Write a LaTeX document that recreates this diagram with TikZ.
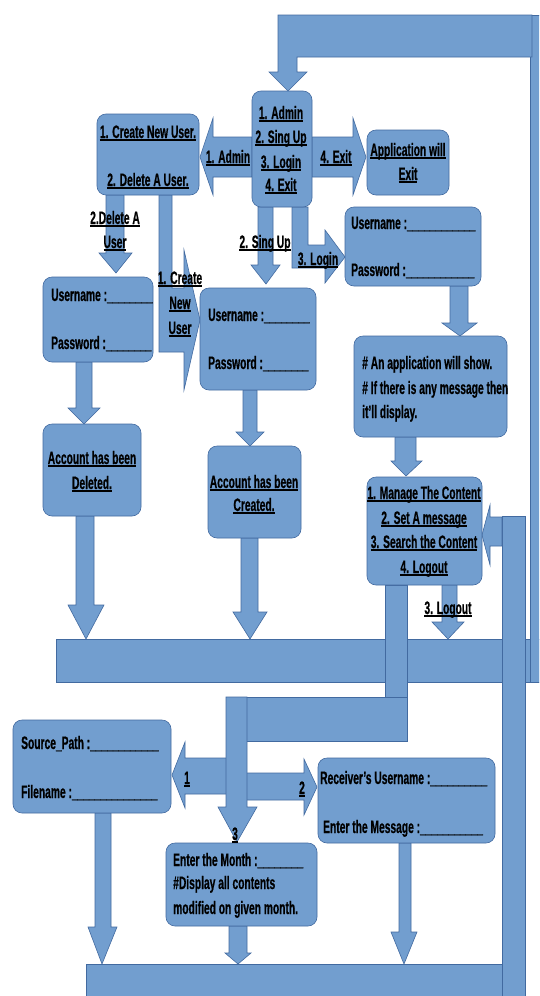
\documentclass[tikz,border=0pt]{standalone}
\usepackage{fontspec}
\setmainfont{Liberation Sans}[FakeStretch=0.57,BoldFeatures={FakeBold=0.6}]
\usetikzlibrary{fit}
\definecolor{bfill}{RGB}{114,158,207}
\definecolor{bline}{RGB}{66,106,160}
\newsavebox{\myulbox}
\newcommand{\myul}[1]{\sbox{\myulbox}{#1}\rlap{\rule[-2.8pt]{\wd\myulbox}{1.5pt}}\usebox{\myulbox}}
\newcommand{\blk}[1]{\foreach \i in {1,...,#1}{\_}}
\begin{document}
\begin{tikzpicture}[x=1pt,y=-1pt,
  shp/.style={fill=bfill,draw=bline,line width=0.6pt,line join=miter},
  box/.style={shp,rounded corners=9pt,inner sep=0pt,outer sep=0pt},
  txt/.style={font=\bfseries\fontsize{18}{21}\selectfont,inner sep=0pt,text=black,anchor=base},
  ltxt/.style={txt,anchor=base west}]
\clip (0,0) rectangle (539,996);
\fill[white] (0,0) rectangle (539,996);
% outer loop
\path[shp] (56,639) rectangle (560,682);
\path[shp] (530,15) rectangle (560,682);
\path[shp] (278,15) -- (532,15) -- (532,57) -- (297,57) -- (297,72) -- (307,72) -- (288,91) -- (269,72) -- (278,72) -- cycle;
% inner loop
\path[shp] (86,964) rectangle (510,1010);
\path[shp] (502,516) rectangle (525,1010);
\path[shp] (502,517) -- (490,517) -- (490,505) -- (482,535) -- (490,565) -- (490,546) -- (502,546) -- cycle;
% manage path
\path[shp] (385,585) rectangle (407,741);
\path[shp] (226,697) rectangle (407,741);
\path[shp] (230,758) -- (185,758) -- (185,742) -- (172,775) -- (185,808) -- (185,794) -- (230,794) -- cycle;
\path[shp] (243,773) -- (304,773) -- (304,759) -- (317,787) -- (304,815) -- (304,800) -- (243,800) -- cycle;
\path[shp] (226,697) -- (247,697) -- (247,807) -- (257,807) -- (237,842) -- (218,807) -- (226,807) -- cycle;
% menu arrows
\path[shp] (252,137) -- (213,137) -- (213,118) -- (200,157) -- (213,195) -- (213,177) -- (252,177) -- cycle;
\path[shp] (312,137) -- (353,137) -- (353,118) -- (366,157) -- (353,195) -- (353,177) -- (312,177) -- cycle;
\path[shp] (106,195) -- (124,195) -- (124,253) -- (132,253) -- (116,273) -- (99,253) -- (106,253) -- cycle;
\path[shp] (159,195) -- (172,195) -- (172,288) -- (184,288) -- (184,250) -- (200,320) -- (184,390) -- (184,352) -- (159,352) -- cycle;
\path[shp] (258,207) -- (273,207) -- (273,265) -- (280,265) -- (266,284) -- (251,265) -- (258,265) -- cycle;
\path[shp] (292,207) -- (308,207) -- (308,245) -- (325,245) -- (325,230) -- (345,257) -- (325,283) -- (325,268) -- (292,268) -- cycle;
\path[shp] (450,286) -- (468,286) -- (468,323) -- (477,323) -- (460,336) -- (442,323) -- (450,323) -- cycle;
\path[shp] (395,437) -- (416,437) -- (416,461) -- (422,461) -- (406,476) -- (391,461) -- (395,461) -- cycle;
\path[shp] (76,362) -- (92,362) -- (92,408) -- (100,408) -- (84,424) -- (68,408) -- (76,408) -- cycle;
\path[shp] (76,516) -- (94,516) -- (94,605) -- (104,605) -- (86,639) -- (68,605) -- (76,605) -- cycle;
\path[shp] (243,390) -- (257,390) -- (257,432) -- (264,432) -- (250,446) -- (236,432) -- (243,432) -- cycle;
\path[shp] (241,538) -- (258,538) -- (258,612) -- (267,612) -- (250,639) -- (233,612) -- (241,612) -- cycle;
\path[shp] (442,585) -- (457,585) -- (457,622) -- (464,622) -- (448,639) -- (432,622) -- (442,622) -- cycle;
\path[shp] (95,813) -- (111,813) -- (111,927) -- (117,927) -- (102,964) -- (88,927) -- (95,927) -- cycle;
\path[shp] (229,926) -- (247,926) -- (247,953) -- (251,953) -- (238,964) -- (225,953) -- (229,953) -- cycle;
\path[shp] (399,843) -- (411,843) -- (411,932) -- (417,932) -- (404,964) -- (391,932) -- (399,932) -- cycle;
% boxes
\node[box,fit={(252,91) (312,207)}] (menu) {};
\node[box,fit={(97,114) (199,195)}] (cdu) {};
\node[box,fit={(367,130) (449,195)}] (appexit) {};
\node[box,fit={(345,207) (481,286)}] (loginbox) {};
\node[box,fit={(200,288) (316,390)}] (signbox) {};
\node[box,fit={(43,277) (153,362)}] (delbox) {};
\node[box,fit={(43,424) (141,516)}] (deleted) {};
\node[box,fit={(208,446) (301,538)}] (created) {};
\node[box,fit={(354,336) (507,437)}] (appshow) {};
\node[box,fit={(367,477) (482,585)}] (manage) {};
\node[box,fit={(13,720) (171,813)}] (source) {};
\node[box,fit={(318,758) (495,843)}] (receiver) {};
\node[box,fit={(166,843) (317,926)}] (month) {};
% texts
\node[txt] (m1) at (281,119) {\myul{1. Admin}};
\node[txt] (m2) at (281,143) {\myul{2. Sing Up}};
\node[txt] (m3) at (281,168) {\myul{3. Login}};
\node[txt] (m4) at (281,191) {\myul{4. Exit}};
\node[txt] (c1) at (148,138) {\myul{1. Create New User.}};
\node[txt] (c2) at (148,186) {\myul{2. Delete A User.}};
\node[txt] (la) at (228,163) {\myul{1. Admin}};
\node[txt] (le) at (336,163) {\myul{4. Exit}};
\node[txt] (x1) at (408,156) {\myul{Application will}};
\node[txt] (x2) at (408,180) {\myul{Exit}};
\node[txt] (ld1) at (115,224) {\myul{2.Delete A}};
\node[txt] (ld2) at (115,248) {\myul{User}};
\node[txt] (lc1) at (180,284) {\myul{1. Create}};
\node[txt] (lc2) at (180,309) {\myul{New}};
\node[txt] (lc3) at (180,334) {\myul{User}};
\node[txt] (ls) at (265,248) {\myul{2. Sing Up}};
\node[txt] (ll) at (318,265) {\myul{3. Login}};
\node[ltxt] (lg1) at (351,229) {Username :\blk{12}};
\node[ltxt] (lg2) at (351,276) {Password :\blk{12}};
\node[ltxt] (sg1) at (208,321) {Username :\blk{8}};
\node[ltxt] (sg2) at (208,369) {Password :\blk{8}};
\node[ltxt] (dl1) at (51,301) {Username :\blk{8}};
\node[ltxt] (dl2) at (51,349) {Password :\blk{8}};
\node[txt] (ad1) at (92,464) {\myul{Account has been}};
\node[txt] (ad2) at (92,489) {\myul{Deleted.}};
\node[txt] (ac1) at (254,488) {\myul{Account has been}};
\node[txt] (ac2) at (254,511) {\myul{Created.}};
\node[ltxt] (as1) at (362,369) {\# An application will show.};
\node[ltxt] (as2) at (362,394) {\# If there is any message then};
\node[ltxt] (as3) at (362,418) {it'll display.};
\node[txt] (mg1) at (424,499) {\myul{1. Manage The Content}};
\node[txt] (mg2) at (424,524) {\myul{2. Set A message}};
\node[txt] (mg3) at (424,548) {\myul{3. Search the Content}};
\node[txt] (mg4) at (424,573) {\myul{4. Logout}};
\node[txt] (lo) at (448,614) {\myul{3. Logout}};
\node[ltxt] (sp1) at (21,749) {Source\_Path :\blk{12}};
\node[ltxt] (sp2) at (21,798) {Filename :\blk{15}};
\node[ltxt] (rc1) at (320,784) {Receiver's Username :\blk{10}};
\node[ltxt] (rc2) at (323,833) {Enter the Message :\blk{11}};
\node[ltxt] (mo1) at (173,866) {Enter the Month :\blk{8}};
\node[ltxt] (mo2) at (173,889) {\#Display all contents};
\node[ltxt] (mo3) at (173,914) {modified on given month.};
\node[txt] (n1) at (187,784) {\myul{1}};
\node[txt] (n2) at (302,794) {\myul{2}};
\node[txt] (n3) at (235,840) {\myul{3}};
\end{tikzpicture}
\end{document}
